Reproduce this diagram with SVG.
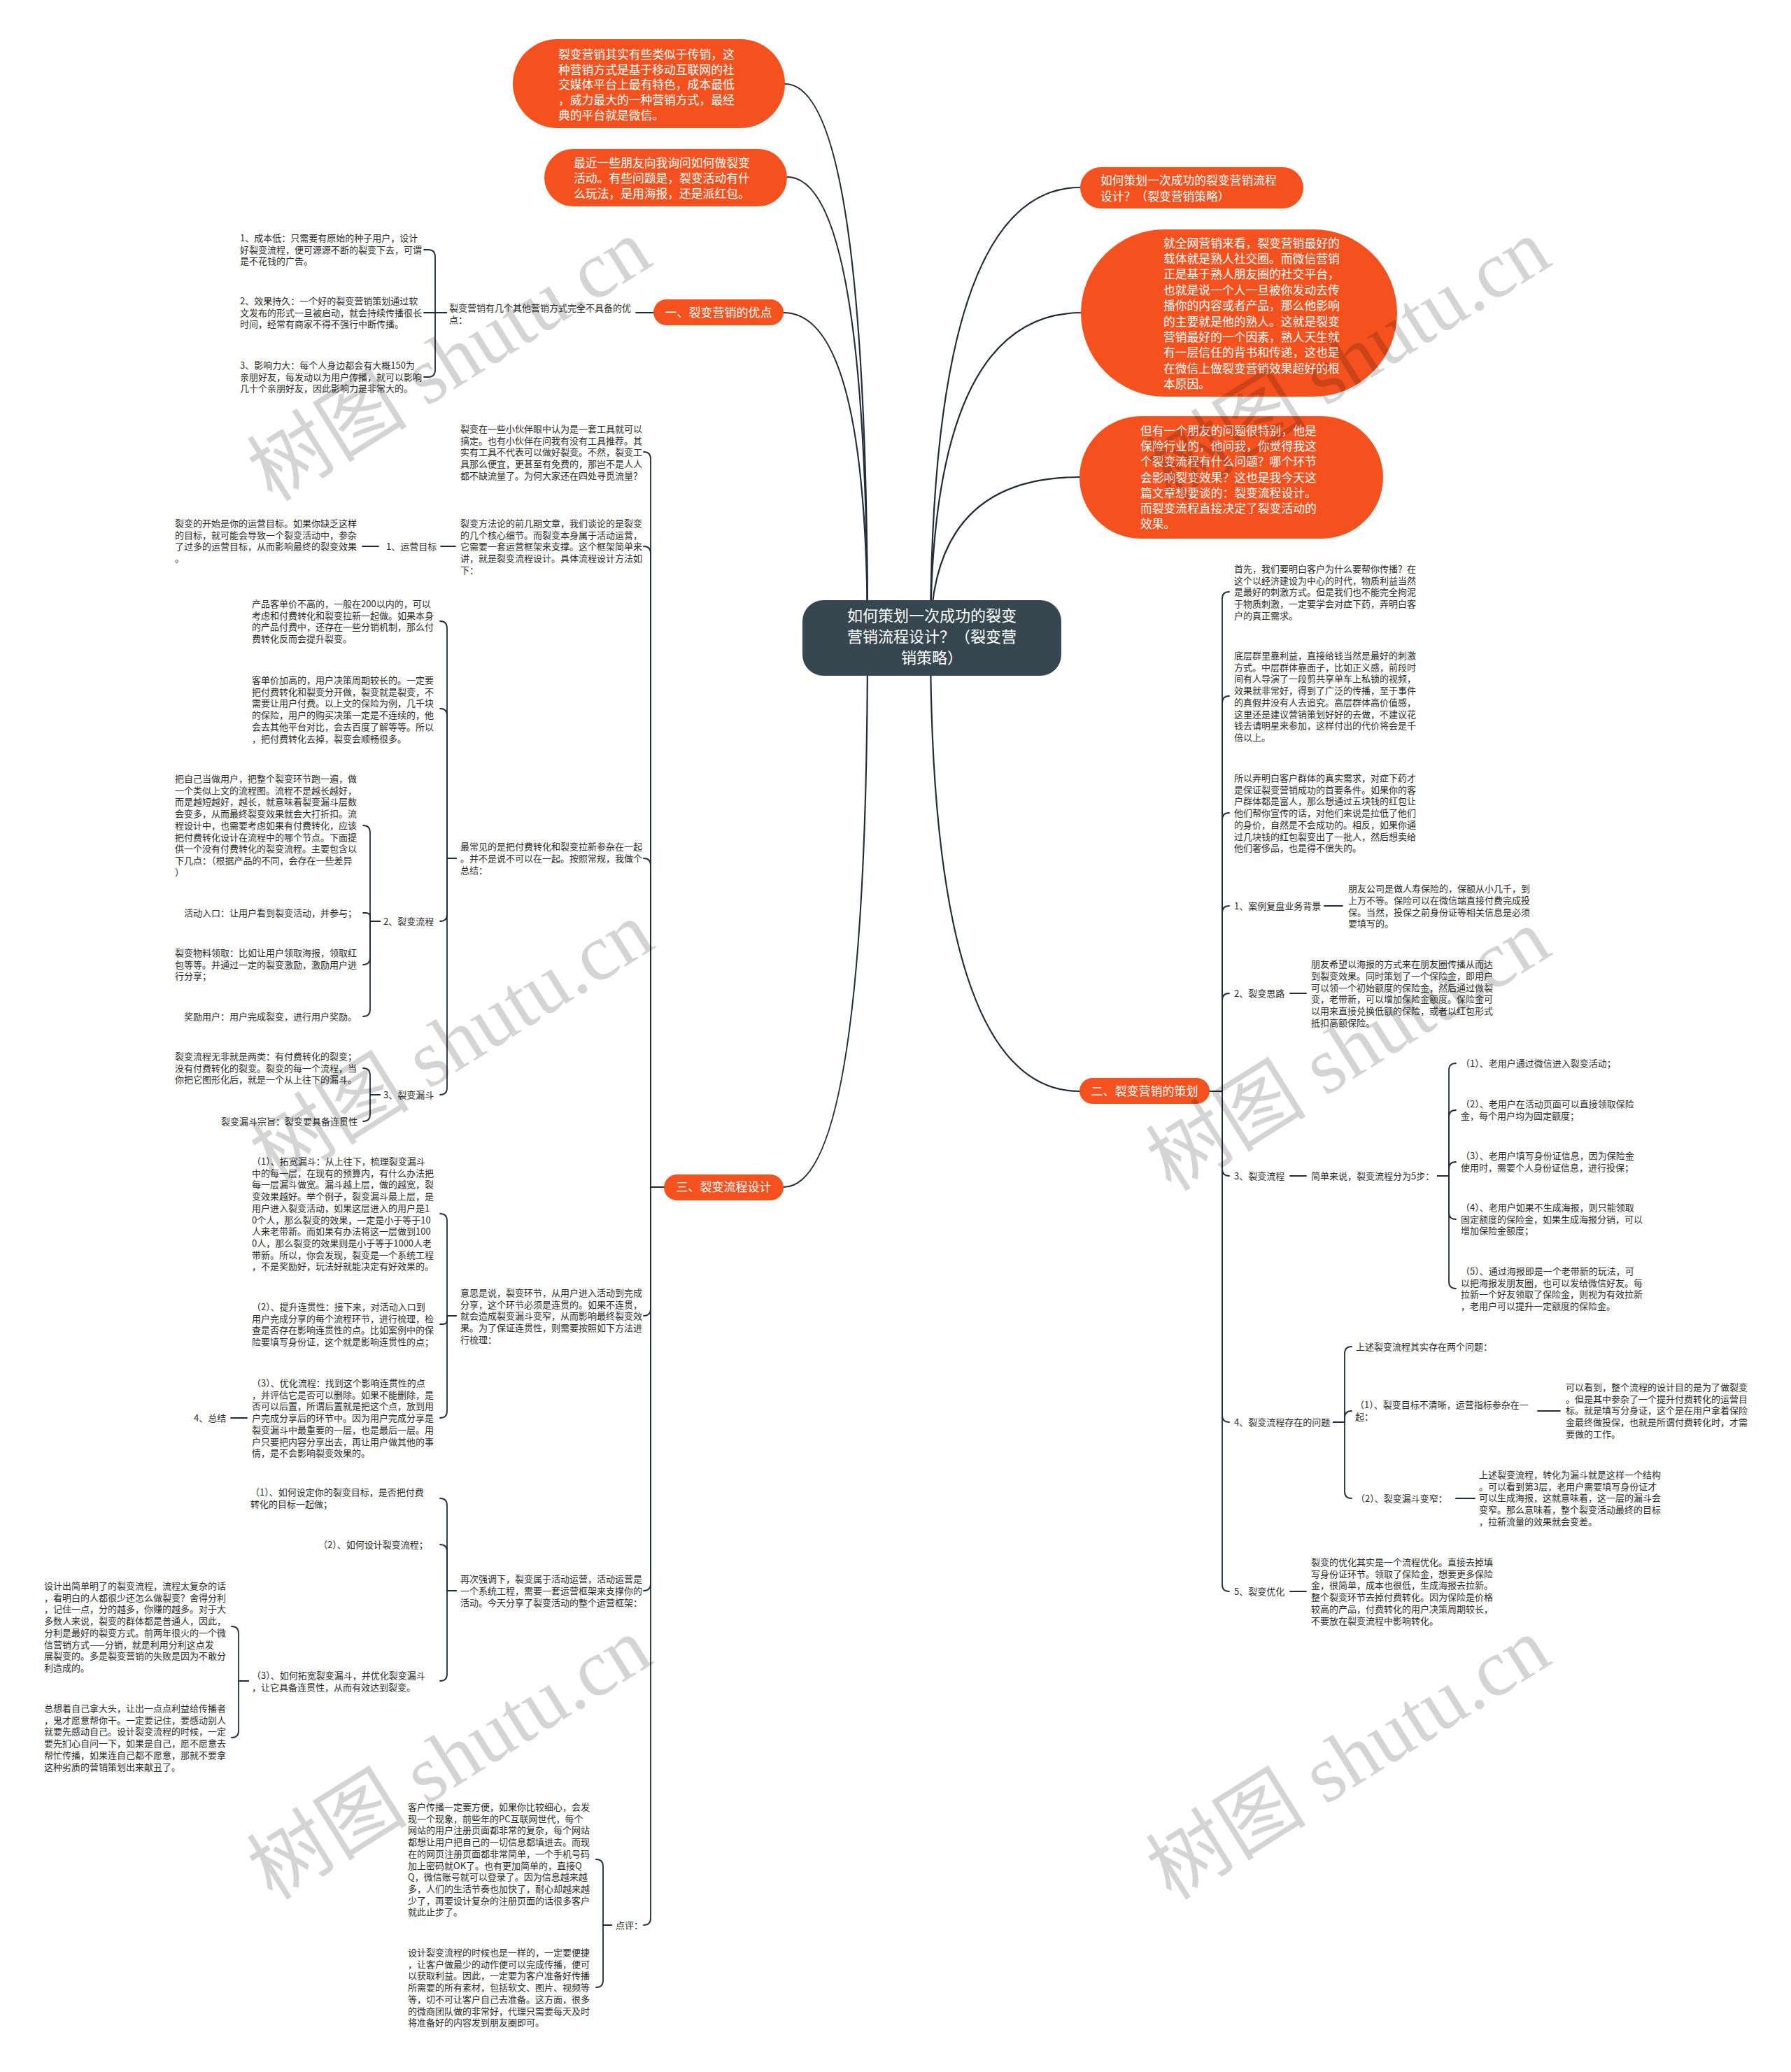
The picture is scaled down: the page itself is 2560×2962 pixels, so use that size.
<svg xmlns="http://www.w3.org/2000/svg" width="2560" height="2962" viewBox="0 0 2560 2962">
<style>
text{font-family:"Noto Sans CJK SC","Noto Sans",sans-serif}
.s{font-size:13px;fill:#2b2b2b}
.b{font-size:16.8px;fill:#ffffff}
.p{font-size:17px;fill:#ffffff}
.m{font-size:22px;fill:#ffffff}
.bub{fill:#f4511e}
.c{fill:none;stroke:#1f2d3a;stroke-width:2.2;stroke-linecap:round}
.k{fill:none;stroke:#1f2d3a;stroke-width:1.8;stroke-linecap:round;stroke-linejoin:round}
.wm{font-family:"Liberation Serif","Noto Sans CJK SC",serif;font-size:115px;fill:#000;fill-opacity:0.17}
</style>
<rect width="2560" height="2962" fill="#ffffff"/>

<g id="connectors">
<path class="c" d="M1240,912 Q1240,120 1122,120"/>
<path class="c" d="M1240,912 Q1240,253 1125,253"/>
<path class="c" d="M1240,912 Q1240,447 1120,447"/>
<path class="c" d="M1240,912 Q1240,1697 1120,1697"/>
<path class="c" d="M1330,912 Q1330,268 1544,268"/>
<path class="c" d="M1330,912 Q1330,447 1546,447"/>
<path class="c" d="M1330,912 Q1330,682 1543,682"/>
<path class="c" d="M1330,912 Q1330,1560 1543,1560"/>

<path class="k" d="M934,447 H909"/>
<path class="k" d="M638,447 H622 V367 Q622,357 612,357 H606"/>
<path class="k" d="M638,447 H606"/>
<path class="k" d="M638,447 H622 V529 Q622,539 612,539 H606"/>

<path class="k" d="M949,1697 H930 V656 Q930,646 920,646"/>
<path class="k" d="M949,1697 H930 V791 Q930,781 920,781"/>
<path class="k" d="M949,1697 H930 V1237 Q930,1227 920,1227"/>
<path class="k" d="M949,1697 H930 V1871 Q930,1881 920,1881"/>
<path class="k" d="M949,1697 H930 V2264 Q930,2274 920,2274"/>
<path class="k" d="M949,1697 H930 V2742 Q930,2752 920,2752"/>

<path class="k" d="M651,781 H630"/>
<path class="k" d="M541,781 H518"/>

<path class="k" d="M652,1227 H639 V898 Q639,888 629,888"/>
<path class="k" d="M652,1227 H639 V1023 Q639,1013 629,1013"/>
<path class="k" d="M652,1227 H639 V1307 Q639,1317 629,1317"/>
<path class="k" d="M652,1227 H639 V1555 Q639,1565 629,1565"/>

<path class="k" d="M543,1317 H529 V1190 Q529,1180 519,1180"/>
<path class="k" d="M543,1317 H529 V1311 Q529,1305 523,1305 H519"/>
<path class="k" d="M543,1317 H529 V1369 Q529,1379 519,1379"/>
<path class="k" d="M543,1317 H529 V1443 Q529,1453 519,1453"/>

<path class="k" d="M543,1565 H529 V1537 Q529,1527 519,1527"/>
<path class="k" d="M543,1565 H529 V1593 Q529,1603 519,1603"/>

<path class="k" d="M652,1881 H639 V1745 Q639,1735 629,1735"/>
<path class="k" d="M652,1881 H639 V1887 Q639,1893 633,1893 H629"/>
<path class="k" d="M652,1881 H639 V2017 Q639,2027 629,2027"/>
<path class="k" d="M353,2027 H330"/>

<path class="k" d="M652,2274 H639 V2152 Q639,2142 629,2142"/>
<path class="k" d="M652,2274 H639 V2218 Q639,2208 629,2208"/>
<path class="k" d="M652,2274 H639 V2393 Q639,2403 629,2403"/>

<path class="k" d="M355,2403 H341 V2335 Q341,2325 331,2325"/>
<path class="k" d="M355,2403 H341 V2474 Q341,2484 331,2484"/>

<path class="k" d="M874,2752 H862 V2668 Q862,2658 852,2658"/>
<path class="k" d="M874,2752 H862 V2831 Q862,2841 852,2841"/>

<path class="k" d="M1729,1560 H1747 V856 Q1747,846 1757,846"/>
<path class="k" d="M1729,1560 H1747 V1005 Q1747,995 1757,995"/>
<path class="k" d="M1729,1560 H1747 V1172 Q1747,1162 1757,1162"/>
<path class="k" d="M1729,1560 H1747 V1305 Q1747,1295 1757,1295"/>
<path class="k" d="M1729,1560 H1747 V1430 Q1747,1420 1757,1420"/>
<path class="k" d="M1729,1560 H1747 V1671 Q1747,1681 1757,1681"/>
<path class="k" d="M1729,1560 H1747 V2023 Q1747,2033 1757,2033"/>
<path class="k" d="M1729,1560 H1747 V2265 Q1747,2275 1757,2275"/>

<path class="k" d="M1893,1295 H1919"/>
<path class="k" d="M1844,1420 H1867"/>
<path class="k" d="M1844,1681 H1867"/>
<path class="k" d="M2055,1681 H2071 V1530 Q2071,1520 2081,1520"/>
<path class="k" d="M2055,1681 H2071 V1597 Q2071,1587 2081,1587"/>
<path class="k" d="M2055,1681 H2071 V1671 Q2071,1661 2081,1661"/>
<path class="k" d="M2055,1681 H2071 V1733 Q2071,1743 2081,1743"/>
<path class="k" d="M2055,1681 H2071 V1832 Q2071,1842 2081,1842"/>

<path class="k" d="M1906,2033 H1922 V1935 Q1922,1925 1932,1925"/>
<path class="k" d="M1906,2033 H1922 V2027 Q1922,2017 1932,2017"/>
<path class="k" d="M1906,2033 H1922 V2132 Q1922,2142 1932,2142"/>
<path class="k" d="M2198,2017 H2230"/>
<path class="k" d="M2081,2142 H2108"/>
<path class="k" d="M1844,2275 H1867"/>
</g>

<g id="center">
<rect x="1147" y="858" width="370" height="108" rx="30" fill="#37474f"/>
<text class="m" text-anchor="middle"><tspan x="1332" y="888">如何策划一次成功的裂变</tspan><tspan x="1332" y="918">营销流程设计？（裂变营</tspan><tspan x="1332" y="948">销策略）</tspan></text>
</g>

<g id="bubble-t1">
<rect class="bub" x="733" y="56" width="389" height="127" rx="63.5"/>
<text class="b"><tspan x="798" y="84">裂变营销其实有些类似于传销，这</tspan><tspan x="798" y="105.7">种营销方式是基于移动互联网的社</tspan><tspan x="798" y="127.4">交媒体平台上最有特色，成本最低</tspan><tspan x="798" y="149.1">，威力最大的一种营销方式，最经</tspan><tspan x="798" y="170.8">典的平台就是微信。</tspan></text>
</g>
<g id="bubble-t2">
<rect class="bub" x="778" y="213" width="347" height="82" rx="41"/>
<text class="b"><tspan x="820" y="239">最近一些朋友向我询问如何做裂变</tspan><tspan x="820" y="261">活动。有些问题是，裂变活动有什</tspan><tspan x="820" y="283">么玩法，是用海报，还是派红包。</tspan></text>
</g>
<g id="bubble-a">
<rect class="bub" x="1544" y="239" width="319" height="59" rx="29.5"/>
<text class="b"><tspan x="1573" y="264">如何策划一次成功的裂变营销流程</tspan><tspan x="1573" y="287">设计？（裂变营销策略）</tspan></text>
</g>
<g id="bubble-b">
<rect class="bub" x="1545" y="328" width="452" height="239" rx="119.5"/>
<text class="b"><tspan x="1663" y="353.5">就全网营销来看，裂变营销最好的</tspan><tspan x="1663" y="375.9">载体就是熟人社交圈。而微信营销</tspan><tspan x="1663" y="398.3">正是基于熟人朋友圈的社交平台，</tspan><tspan x="1663" y="420.7">也就是说一个人一旦被你发动去传</tspan><tspan x="1663" y="443.1">播你的内容或者产品，那么他影响</tspan><tspan x="1663" y="465.5">的主要就是他的熟人。这就是裂变</tspan><tspan x="1663" y="487.9">营销最好的一个因素，熟人天生就</tspan><tspan x="1663" y="510.3">有一层信任的背书和传递，这也是</tspan><tspan x="1663" y="532.7">在微信上做裂变营销效果超好的根</tspan><tspan x="1663" y="555.1">本原因。</tspan></text>
</g>
<g id="bubble-c">
<rect class="bub" x="1543" y="595" width="434" height="175" rx="87.5"/>
<text class="b"><tspan x="1630" y="622">但有一个朋友的问题很特别，他是</tspan><tspan x="1630" y="644.2">保险行业的，他问我，你觉得我这</tspan><tspan x="1630" y="666.4">个裂变流程有什么问题？哪个环节</tspan><tspan x="1630" y="688.6">会影响裂变效果？这也是我今天这</tspan><tspan x="1630" y="710.8">篇文章想要谈的：裂变流程设计。</tspan><tspan x="1630" y="733">而裂变流程直接决定了裂变活动的</tspan><tspan x="1630" y="755.2">效果。</tspan></text>
</g>

<g id="branch-1">
<rect class="bub" x="934" y="428" width="186" height="37" rx="18.5"/>
<text class="p" x="1027" y="453" text-anchor="middle">一、裂变营销的优点</text>
</g>
<g id="b1-intro"><text class="s"><tspan x="642" y="445">裂变营销有几个其他营销方式完全不具备的优</tspan><tspan x="642" y="462">点：</tspan></text></g>
<g id="b1-item1"><text class="s"><tspan x="343" y="345">1、成本低：只需要有原始的种子用户，设计</tspan><tspan x="343" y="361.7">好裂变流程，便可源源不断的裂变下去，可谓</tspan><tspan x="343" y="378.4">是不花钱的广告。</tspan></text></g>
<g id="b1-item2"><text class="s"><tspan x="343" y="435">2、效果持久：一个好的裂变营销策划通过软</tspan><tspan x="343" y="451.7">文发布的形式一旦被启动，就会持续传播很长</tspan><tspan x="343" y="468.4">时间，经常有商家不得不强行中断传播。</tspan></text></g>
<g id="b1-item3"><text class="s"><tspan x="343" y="527">3、影响力大：每个人身边都会有大概150为</tspan><tspan x="343" y="543.7">亲朋好友，每发动以为用户传播，就可以影响</tspan><tspan x="343" y="560.4">几十个亲朋好友，因此影响力是非常大的。</tspan></text></g>

<g id="branch-3">
<rect class="bub" x="949" y="1679" width="171" height="37" rx="18.5"/>
<text class="p" x="1034.5" y="1703" text-anchor="middle">三、裂变流程设计</text>
</g>
<g id="b3-tools"><text class="s"><tspan x="658" y="618">裂变在一些小伙伴眼中认为是一套工具就可以</tspan><tspan x="658" y="634.7">搞定。也有小伙伴在问我有没有工具推荐。其</tspan><tspan x="658" y="651.4">实有工具不代表可以做好裂变。不然，裂变工</tspan><tspan x="658" y="668.1">具那么便宜，更甚至有免费的，那岂不是人人</tspan><tspan x="658" y="684.8">都不缺流量了。为何大家还在四处寻觅流量？</tspan></text></g>
<g id="b3-method"><text class="s"><tspan x="658" y="753">裂变方法论的前几期文章，我们谈论的是裂变</tspan><tspan x="658" y="769.7">的几个核心细节。而裂变本身属于活动运营，</tspan><tspan x="658" y="786.4">它需要一套运营框架来支撑。这个框架简单来</tspan><tspan x="658" y="803.1">讲，就是裂变流程设计。具体流程设计方法如</tspan><tspan x="658" y="819.8">下：</tspan></text></g>
<g id="b3-goal"><text class="s" x="552" y="786">1、运营目标</text></g>
<g id="b3-goal-d"><text class="s"><tspan x="250" y="753">裂变的开始是你的运营目标。如果你缺乏这样</tspan><tspan x="250" y="769.7">的目标，就可能会导致一个裂变活动中，参杂</tspan><tspan x="250" y="786.4">了过多的运营目标，从而影响最终的裂变效果</tspan><tspan x="250" y="803.1">。</tspan></text></g>

<g id="b3-common"><text class="s"><tspan x="658" y="1215">最常见的是把付费转化和裂变拉新参杂在一起</tspan><tspan x="658" y="1232">。并不是说不可以在一起。按照常规，我做个</tspan><tspan x="658" y="1249">总结：</tspan></text></g>
<g id="b3-low"><text class="s"><tspan x="360" y="868">产品客单价不高的，一般在200以内的，可以</tspan><tspan x="360" y="884.7">考虑和付费转化和裂变拉新一起做。如果本身</tspan><tspan x="360" y="901.4">的产品付费中，还存在一些分销机制，那么付</tspan><tspan x="360" y="918.1">费转化反而会提升裂变。</tspan></text></g>
<g id="b3-high"><text class="s"><tspan x="360" y="977">客单价加高的，用户决策周期较长的。一定要</tspan><tspan x="360" y="993.7">把付费转化和裂变分开做，裂变就是裂变，不</tspan><tspan x="360" y="1010.4">需要让用户付费。以上文的保险为例，几千块</tspan><tspan x="360" y="1027.1">的保险，用户的购买决策一定是不连续的，他</tspan><tspan x="360" y="1043.8">会去其他平台对比，会去百度了解等等。所以</tspan><tspan x="360" y="1060.5">，把付费转化去掉，裂变会顺畅很多。</tspan></text></g>
<g id="b3-flow"><text class="s" x="548" y="1322">2、裂变流程</text></g>
<g id="b3-flow-1"><text class="s"><tspan x="250" y="1118">把自己当做用户，把整个裂变环节跑一遍，做</tspan><tspan x="250" y="1134.7">一个类似上文的流程图。流程不是越长越好，</tspan><tspan x="250" y="1151.4">而是越短越好，越长，就意味着裂变漏斗层数</tspan><tspan x="250" y="1168.1">会变多，从而最终裂变效果就会大打折扣。流</tspan><tspan x="250" y="1184.8">程设计中，也需要考虑如果有付费转化，应该</tspan><tspan x="250" y="1201.5">把付费转化设计在流程中的哪个节点。下面提</tspan><tspan x="250" y="1218.2">供一个没有付费转化的裂变流程。主要包含以</tspan><tspan x="250" y="1234.9">下几点：（根据产品的不同，会存在一些差异</tspan><tspan x="250" y="1251.6">）</tspan></text></g>
<g id="b3-flow-2"><text class="s" x="263" y="1310">活动入口：让用户看到裂变活动，并参与；</text></g>
<g id="b3-flow-3"><text class="s"><tspan x="250" y="1367">裂变物料领取：比如让用户领取海报，领取红</tspan><tspan x="250" y="1383.7">包等等。并通过一定的裂变激励，激励用户进</tspan><tspan x="250" y="1400.4">行分享；</tspan></text></g>
<g id="b3-flow-4"><text class="s" x="263" y="1458">奖励用户：用户完成裂变，进行用户奖励。</text></g>
<g id="b3-funnel"><text class="s" x="548" y="1570">3、裂变漏斗</text></g>
<g id="b3-funnel-1"><text class="s"><tspan x="250" y="1515">裂变流程无非就是两类：有付费转化的裂变；</tspan><tspan x="250" y="1531.7">没有付费转化的裂变。裂变的每一个流程，当</tspan><tspan x="250" y="1548.4">你把它图形化后，就是一个从上往下的漏斗。</tspan></text></g>
<g id="b3-funnel-2"><text class="s" x="316" y="1608">裂变漏斗宗旨：裂变要具备连贯性</text></g>

<g id="b3-meaning"><text class="s"><tspan x="658" y="1853">意思是说，裂变环节，从用户进入活动到完成</tspan><tspan x="658" y="1869.7">分享，这个环节必须是连贯的。如果不连贯，</tspan><tspan x="658" y="1886.4">就会造成裂变漏斗变窄，从而影响最终裂变效</tspan><tspan x="658" y="1903.1">果。为了保证连贯性，则需要按照如下方法进</tspan><tspan x="658" y="1919.8">行梳理：</tspan></text></g>
<g id="b3-m1"><text class="s"><tspan x="360" y="1665">（1）、拓宽漏斗：从上往下，梳理裂变漏斗</tspan><tspan x="360" y="1681.7">中的每一层，在现有的预算内，有什么办法把</tspan><tspan x="360" y="1698.4">每一层漏斗做宽。漏斗越上层，做的越宽，裂</tspan><tspan x="360" y="1715.1">变效果越好。举个例子，裂变漏斗最上层，是</tspan><tspan x="360" y="1731.8">用户进入裂变活动，如果这层进入的用户是1</tspan><tspan x="360" y="1748.5">0个人，那么裂变的效果，一定是小于等于10</tspan><tspan x="360" y="1765.2">人来老带新。而如果有办法将这一层做到100</tspan><tspan x="360" y="1781.9">0人，那么裂变的效果则是小于等于1000人老</tspan><tspan x="360" y="1798.6">带新。所以，你会发现，裂变是一个系统工程</tspan><tspan x="360" y="1815.3">，不是奖励好，玩法好就能决定有好效果的。</tspan></text></g>
<g id="b3-m2"><text class="s"><tspan x="360" y="1873">（2）、提升连贯性：接下来，对活动入口到</tspan><tspan x="360" y="1889.7">用户完成分享的每个流程环节，进行梳理，检</tspan><tspan x="360" y="1906.4">查是否存在影响连贯性的点。比如案例中的保</tspan><tspan x="360" y="1923.1">险要填写身份证，这个就是影响连贯性的点；</tspan></text></g>
<g id="b3-m3"><text class="s"><tspan x="360" y="1982">（3）、优化流程：找到这个影响连贯性的点</tspan><tspan x="360" y="1998.7">，并评估它是否可以删除。如果不能删除，是</tspan><tspan x="360" y="2015.4">否可以后置，所谓后置就是把这个点，放到用</tspan><tspan x="360" y="2032.1">户完成分享后的环节中。因为用户完成分享是</tspan><tspan x="360" y="2048.8">裂变漏斗中最重要的一层，也是最后一层。用</tspan><tspan x="360" y="2065.5">户只要把内容分享出去，再让用户做其他的事</tspan><tspan x="360" y="2082.2">情，是不会影响裂变效果的。</tspan></text></g>
<g id="b3-summary"><text class="s" x="277" y="2032">4、总结</text></g>

<g id="b3-again"><text class="s"><tspan x="658" y="2262">再次强调下，裂变属于活动运营，活动运营是</tspan><tspan x="658" y="2279">一个系统工程，需要一套运营框架来支撑你的</tspan><tspan x="658" y="2296">活动。今天分享了裂变活动的整个运营框架：</tspan></text></g>
<g id="b3-a1"><text class="s"><tspan x="358" y="2138">（1）、如何设定你的裂变目标，是否把付费</tspan><tspan x="358" y="2155">转化的目标一起做；</tspan></text></g>
<g id="b3-a2"><text class="s" x="455" y="2213">（2）、如何设计裂变流程；</text></g>
<g id="b3-a3"><text class="s"><tspan x="360" y="2400">（3）、如何拓宽裂变漏斗，并优化裂变漏斗</tspan><tspan x="360" y="2417">，让它具备连贯性，从而有效达到裂变。</tspan></text></g>
<g id="b3-a3-1"><text class="s"><tspan x="63" y="2272">设计出简单明了的裂变流程，流程太复杂的话</tspan><tspan x="63" y="2288.7">，看明白的人都很少还怎么做裂变？舍得分利</tspan><tspan x="63" y="2305.4">，记住一点，分的越多，你赚的越多。对于大</tspan><tspan x="63" y="2322.1">多数人来说，裂变的群体都是普通人，因此，</tspan><tspan x="63" y="2338.8">分利是最好的裂变方式。前两年很火的一个微</tspan><tspan x="63" y="2355.5">信营销方式——分销，就是利用分利这点发</tspan><tspan x="63" y="2372.2">展裂变的。多是裂变营销的失败是因为不敢分</tspan><tspan x="63" y="2388.9">利造成的。</tspan></text></g>
<g id="b3-a3-2"><text class="s"><tspan x="63" y="2447">总想着自己拿大头，让出一点点利益给传播者</tspan><tspan x="63" y="2463.7">，鬼才愿意帮你干。一定要记住，要感动别人</tspan><tspan x="63" y="2480.4">就要先感动自己。设计裂变流程的时候，一定</tspan><tspan x="63" y="2497.1">要先扪心自问一下，如果是自己，愿不愿意去</tspan><tspan x="63" y="2513.8">帮忙传播，如果连自己都不愿意，那就不要拿</tspan><tspan x="63" y="2530.5">这种劣质的营销策划出来献丑了。</tspan></text></g>

<g id="b3-review"><text class="s" x="880" y="2757">点评：</text></g>
<g id="b3-r1"><text class="s"><tspan x="583" y="2588">客户传播一定要方便，如果你比较细心，会发</tspan><tspan x="583" y="2604.7">现一个现象，前些年的PC互联网世代，每个</tspan><tspan x="583" y="2621.4">网站的用户注册页面都非常的复杂，每个网站</tspan><tspan x="583" y="2638.1">都想让用户把自己的一切信息都填进去。而现</tspan><tspan x="583" y="2654.8">在的网页注册页面都非常简单，一个手机号码</tspan><tspan x="583" y="2671.5">加上密码就OK了。也有更加简单的，直接Q</tspan><tspan x="583" y="2688.2">Q，微信账号就可以登录了。因为信息越来越</tspan><tspan x="583" y="2704.9">多，人们的生活节奏也加快了，耐心却越来越</tspan><tspan x="583" y="2721.6">少了，再要设计复杂的注册页面的话很多客户</tspan><tspan x="583" y="2738.3">就此止步了。</tspan></text></g>
<g id="b3-r2"><text class="s"><tspan x="583" y="2796">设计裂变流程的时候也是一样的，一定要便捷</tspan><tspan x="583" y="2812.7">，让客户做最少的动作便可以完成传播，便可</tspan><tspan x="583" y="2829.4">以获取利益。因此，一定要为客户准备好传播</tspan><tspan x="583" y="2846.1">所需要的所有素材，包括软文、图片、视频等</tspan><tspan x="583" y="2862.8">等，切不可让客户自己去准备。这方面，很多</tspan><tspan x="583" y="2879.5">的微商团队做的非常好，代理只需要每天及时</tspan><tspan x="583" y="2896.2">将准备好的内容发到朋友圈即可。</tspan></text></g>

<g id="branch-2">
<rect class="bub" x="1543" y="1541" width="186" height="37" rx="18.5"/>
<text class="p" x="1636" y="1566" text-anchor="middle">二、裂变营销的策划</text>
</g>
<g id="b2-first"><text class="s"><tspan x="1764" y="818">首先，我们要明白客户为什么要帮你传播？在</tspan><tspan x="1764" y="834.7">这个以经济建设为中心的时代，物质利益当然</tspan><tspan x="1764" y="851.4">是最好的刺激方式。但是我们也不能完全拘泥</tspan><tspan x="1764" y="868.1">于物质刺激，一定要学会对症下药，弄明白客</tspan><tspan x="1764" y="884.8">户的真正需求。</tspan></text></g>
<g id="b2-levels"><text class="s"><tspan x="1764" y="942">底层群里靠利益，直接给钱当然是最好的刺激</tspan><tspan x="1764" y="958.7">方式。中层群体靠面子，比如正义感，前段时</tspan><tspan x="1764" y="975.4">间有人导演了一段剪共享单车上私锁的视频，</tspan><tspan x="1764" y="992.1">效果就非常好，得到了广泛的传播，至于事件</tspan><tspan x="1764" y="1008.8">的真假并没有人去追究。高层群体高价值感，</tspan><tspan x="1764" y="1025.5">这里还是建议营销策划好好的去做，不建议花</tspan><tspan x="1764" y="1042.2">钱去请明星来参加，这样付出的代价将会是千</tspan><tspan x="1764" y="1058.9">倍以上。</tspan></text></g>
<g id="b2-so"><text class="s"><tspan x="1764" y="1117">所以弄明白客户群体的真实需求，对症下药才</tspan><tspan x="1764" y="1133.7">是保证裂变营销成功的首要条件。如果你的客</tspan><tspan x="1764" y="1150.4">户群体都是富人，那么想通过五块钱的红包让</tspan><tspan x="1764" y="1167.1">他们帮你宣传的话，对他们来说是拉低了他们</tspan><tspan x="1764" y="1183.8">的身价，自然是不会成功的。相反，如果你通</tspan><tspan x="1764" y="1200.5">过几块钱的红包裂变出了一批人，然后想卖给</tspan><tspan x="1764" y="1217.2">他们奢侈品，也是得不偿失的。</tspan></text></g>
<g id="b2-case"><text class="s" x="1764" y="1300">1、案例复盘业务背景</text></g>
<g id="b2-case-d"><text class="s"><tspan x="1927" y="1275">朋友公司是做人寿保险的，保额从小几千，到</tspan><tspan x="1927" y="1291.8">上万不等。保险可以在微信端直接付费完成投</tspan><tspan x="1927" y="1308.6">保。当然，投保之前身份证等相关信息是必须</tspan><tspan x="1927" y="1325.4">要填写的。</tspan></text></g>
<g id="b2-idea"><text class="s" x="1764" y="1425">2、裂变思路</text></g>
<g id="b2-idea-d"><text class="s"><tspan x="1874" y="1383">朋友希望以海报的方式来在朋友圈传播从而达</tspan><tspan x="1874" y="1399.8">到裂变效果。同时策划了一个保险金，即用户</tspan><tspan x="1874" y="1416.6">可以领一个初始额度的保险金，然后通过做裂</tspan><tspan x="1874" y="1433.4">变，老带新，可以增加保险金额度。保险金可</tspan><tspan x="1874" y="1450.2">以用来直接兑换低额的保险，或者以红包形式</tspan><tspan x="1874" y="1467">抵扣高额保险。</tspan></text></g>
<g id="b2-flow"><text class="s" x="1764" y="1686">3、裂变流程</text></g>
<g id="b2-flow-d"><text class="s" x="1874" y="1686">简单来说，裂变流程分为5步：</text></g>
<g id="b2-step1"><text class="s" x="2088" y="1525">（1）、老用户通过微信进入裂变活动；</text></g>
<g id="b2-step2"><text class="s"><tspan x="2088" y="1583">（2）、老用户在活动页面可以直接领取保险</tspan><tspan x="2088" y="1599.7">金，每个用户均为固定额度；</tspan></text></g>
<g id="b2-step3"><text class="s"><tspan x="2088" y="1657">（3）、老用户填写身份证信息，因为保险金</tspan><tspan x="2088" y="1673.7">使用时，需要个人身份证信息，进行投保；</tspan></text></g>
<g id="b2-step4"><text class="s"><tspan x="2088" y="1731">（4）、老用户如果不生成海报，则只能领取</tspan><tspan x="2088" y="1747.7">固定额度的保险金，如果生成海报分销，可以</tspan><tspan x="2088" y="1764.4">增加保险金额度；</tspan></text></g>
<g id="b2-step5"><text class="s"><tspan x="2088" y="1822">（5）、通过海报即是一个老带新的玩法，可</tspan><tspan x="2088" y="1838.7">以把海报发朋友圈，也可以发给微信好友。每</tspan><tspan x="2088" y="1855.4">拉新一个好友领取了保险金，则视为有效拉新</tspan><tspan x="2088" y="1872.1">，老用户可以提升一定额度的保险金。</tspan></text></g>
<g id="b2-problem"><text class="s" x="1764" y="2038">4、裂变流程存在的问题</text></g>
<g id="b2-p0"><text class="s" x="1938" y="1930">上述裂变流程其实存在两个问题：</text></g>
<g id="b2-p1"><text class="s"><tspan x="1937" y="2013">（1）、裂变目标不清晰，运营指标参杂在一</tspan><tspan x="1937" y="2030">起：</tspan></text></g>
<g id="b2-p1-d"><text class="s"><tspan x="2238" y="1988">可以看到，整个流程的设计目的是为了做裂变</tspan><tspan x="2238" y="2004.7">。但是其中参杂了一个提升付费转化的运营目</tspan><tspan x="2238" y="2021.4">标。就是填写分身证，这个是在用户拿着保险</tspan><tspan x="2238" y="2038.1">金最终做投保，也就是所谓付费转化时，才需</tspan><tspan x="2238" y="2054.8">要做的工作。</tspan></text></g>
<g id="b2-p2"><text class="s" x="1938" y="2147">（2）、裂变漏斗变窄：</text></g>
<g id="b2-p2-d"><text class="s"><tspan x="2114" y="2113">上述裂变流程，转化为漏斗就是这样一个结构</tspan><tspan x="2114" y="2129.7">。可以看到第3层，老用户需要填写身份证才</tspan><tspan x="2114" y="2146.4">可以生成海报，这就意味着，这一层的漏斗会</tspan><tspan x="2114" y="2163.1">变窄。那么意味着，整个裂变活动最终的目标</tspan><tspan x="2114" y="2179.8">，拉新流量的效果就会变差。</tspan></text></g>
<g id="b2-opt"><text class="s" x="1764" y="2280">5、裂变优化</text></g>
<g id="b2-opt-d"><text class="s"><tspan x="1874" y="2238">裂变的优化其实是一个流程优化。直接去掉填</tspan><tspan x="1874" y="2254.7">写身份证环节。领取了保险金，想要更多保险</tspan><tspan x="1874" y="2271.4">金，很简单，成本也很低，生成海报去拉新。</tspan><tspan x="1874" y="2288.1">整个裂变环节去掉付费转化。因为保险是价格</tspan><tspan x="1874" y="2304.8">较高的产品，付费转化的用户决策周期较长，</tspan><tspan x="1874" y="2321.5">不要放在裂变流程中影响转化。</tspan></text></g>

<g id="watermarks">
<text class="wm" text-anchor="middle" transform="translate(642,514) rotate(-32)" y="40">树图 shutu.cn</text>
<text class="wm" text-anchor="middle" transform="translate(1927,514) rotate(-32)" y="40">树图 shutu.cn</text>
<text class="wm" text-anchor="middle" transform="translate(645,1490) rotate(-32)" y="40">树图 shutu.cn</text>
<text class="wm" text-anchor="middle" transform="translate(1927,1500) rotate(-32)" y="40">树图 shutu.cn</text>
<text class="wm" text-anchor="middle" transform="translate(642,2513) rotate(-32)" y="40">树图 shutu.cn</text>
<text class="wm" text-anchor="middle" transform="translate(1927,2513) rotate(-32)" y="40">树图 shutu.cn</text>
</g>
</svg>
